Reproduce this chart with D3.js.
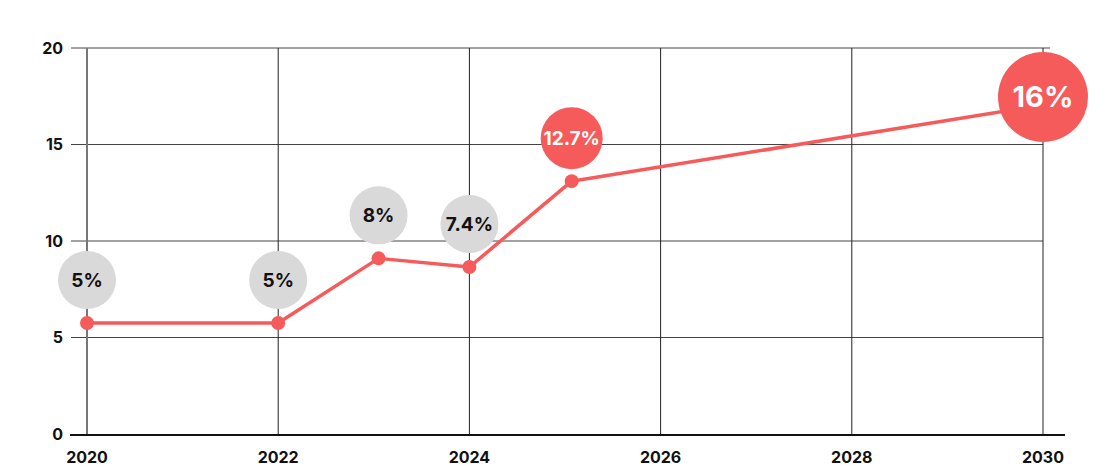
<!DOCTYPE html>
<html lang="en">
<head>
    <meta charset="UTF-8">
    <title>Growth</title>
    <script src="https://d3js.org/d3.v7.min.js"></script>
    <style>
        body { margin: 0; background: #fff; }
        text { font-family: Inter, "DejaVu Sans", sans-serif; font-weight: 700; }
    </style>
</head>
<body>
<script type="text/javascript">
    // data
    var years = [2020, 2022, 2023.05, 2024, 2025.07, 2030];
    var values = [5.75, 5.75, 9.1, 8.65, 13.1, 17.05];
    var labels = ["5%", "5%", "8%", "7.4%", "12.7%", "16%"];
    var highlight = [false, false, false, false, true, true];
    var xTicks = [2020, 2022, 2024, 2026, 2028, 2030];
    var yTicks = [0, 5, 10, 15, 20];

    var svgWidth = 1120;
    var svgHeight = 474;
    var red = "#f65b5b";
    var grey = "#d9d9d9";

    var xScale = d3.scaleLinear().domain([2020, 2030]).range([87, 1043]);
    var yScale = d3.scaleLinear().domain([0, 20]).range([434, 48]);

    var svg = d3.select("body").append("svg")
        .attr("width", svgWidth)
        .attr("height", svgHeight);

    // horizontal grid (skip 0, drawn as axis line)
    svg.selectAll("line.hgrid")
        .data(yTicks.filter(function (d) { return d > 0; }))
        .enter()
        .append("line")
        .attr("class", "hgrid")
        .attr("x1", 71)
        .attr("x2", function (d) { return d === 20 ? 1050 : xScale(2030); })
        .attr("y1", function (d) { return yScale(d); })
        .attr("y2", function (d) { return yScale(d); })
        .attr("stroke", "#444")
        .attr("stroke-width", 1);

    // vertical grid
    svg.selectAll("line.vgrid")
        .data(xTicks)
        .enter()
        .append("line")
        .attr("class", "vgrid")
        .attr("x1", function (d) { return xScale(d); })
        .attr("x2", function (d) { return xScale(d); })
        .attr("y1", yScale(20))
        .attr("y2", yScale(0))
        .attr("stroke", function (d) { return d === 2020 ? "#777" : "#222"; })
        .attr("stroke-width", function (d) { return d === 2020 ? 2 : 1; });

    // baseline
    svg.append("line")
        .attr("x1", 70)
        .attr("x2", 1065)
        .attr("y1", yScale(0) + 1)
        .attr("y2", yScale(0) + 1)
        .attr("stroke", "#111")
        .attr("stroke-width", 2);

    // y tick labels
    svg.selectAll("text.ylab")
        .data(yTicks)
        .enter()
        .append("text")
        .attr("class", "ylab")
        .attr("x", 63)
        .attr("y", function (d) { return yScale(d); })
        .attr("dy", "0.36em")
        .attr("text-anchor", "end")
        .attr("font-size", "16px")
        .attr("fill", "#111")
        .text(function (d) { return d; });

    // x tick labels
    svg.selectAll("text.xlab")
        .data(xTicks)
        .enter()
        .append("text")
        .attr("class", "xlab")
        .attr("x", function (d) { return xScale(d); })
        .attr("y", 463)
        .attr("text-anchor", "middle")
        .attr("font-size", "16px")
        .attr("fill", "#111")
        .text(function (d) { return d; });

    var points = years.map(function (y, i) {
        return {year: y, value: values[i], label: labels[i], hot: highlight[i], big: i === years.length - 1};
    });

    // line
    var line = d3.line()
        .x(function (d) { return xScale(d.year); })
        .y(function (d) { return yScale(d.value); });

    svg.append("path")
        .datum(points)
        .attr("d", line)
        .attr("fill", "none")
        .attr("stroke", red)
        .attr("stroke-width", 3.5)
        .attr("stroke-linejoin", "round");

    // markers
    svg.selectAll("circle.dot")
        .data(points.filter(function (d) { return !d.big; }))
        .enter()
        .append("circle")
        .attr("class", "dot")
        .attr("cx", function (d) { return xScale(d.year); })
        .attr("cy", function (d) { return yScale(d.value); })
        .attr("r", 7)
        .attr("fill", red);

    // bubbles
    var bubbleY = function (d) {
        return yScale(d.value) - (d.big ? 8 : 43);
    };
    var bubbles = svg.selectAll("g.bubble")
        .data(points)
        .enter()
        .append("g")
        .attr("class", "bubble")
        .attr("transform", function (d) {
            return "translate(" + xScale(d.year) + "," + bubbleY(d) + ")";
        });

    bubbles.append("circle")
        .attr("r", function (d) { return d.big ? 45 : (d.hot ? 31 : 29); })
        .attr("fill", function (d) { return d.hot ? red : grey; });

    bubbles.append("text")
        .attr("text-anchor", "middle")
        .attr("dy", "0.36em")
        .attr("font-size", function (d) { return d.big ? "29px" : "19px"; })
        .attr("fill", function (d) { return d.hot ? "#fff" : "#111"; })
        .text(function (d) { return d.label; });
</script>
</body>
</html>
